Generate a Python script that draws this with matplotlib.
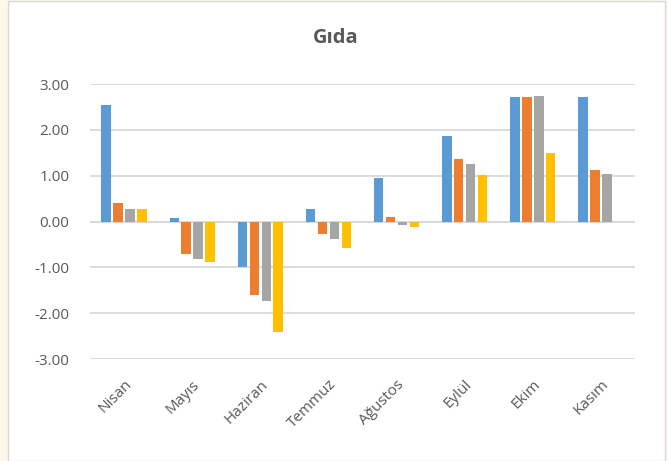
import numpy as np
import matplotlib.pyplot as plt
from matplotlib.patches import Rectangle

# Monthly values per series
months = ["Nisan", "Mayıs", "Haziran", "Temmuz", "Ağustos", "Eylül", "Ekim", "Kasım"]
series1 = [2.54, 0.07, -1.00, 0.27, 0.94, 1.86, 2.72, 2.72]
series2 = [0.40, -0.71, -1.60, -0.27, 0.09, 1.37, 2.72, 1.13]
series3 = [0.28, -0.81, -1.73, -0.38, -0.08, 1.26, 2.74, 1.04]
series4 = [0.28, -0.88, -2.40, -0.58, -0.11, 1.02, 1.50, np.nan]
yticks = [-3, -2, -1, 0, 1, 2, 3]

colors = ["#5B9BD5", "#ED7D31", "#A5A5A5", "#FFC000"]
text_color = "#595959"

plt.rcParams['font.family'] = ['Open Sans', 'DejaVu Sans']

fig = plt.figure(figsize=(6.68, 4.61), dpi=100, facecolor="#FFF8EA")
# white chart area with thin grey border, behind the axes
fig.patches.append(Rectangle((7.5 / 668, 0.5 / 461), 657 / 668, 459 / 461,
                             transform=fig.transFigure, facecolor="white",
                             edgecolor="#D9D9D9", linewidth=1, zorder=-5))

ax = fig.add_axes([90 / 668, 1 - 359 / 461, 545 / 668, 275 / 461])
ax.set_facecolor("none")
ax.set_zorder(1)

x = np.arange(len(months))
width = 0.14
step = 0.175
for i, vals in enumerate([series1, series2, series3, series4]):
    ax.bar(x + (i - 1.5) * step, vals, width, color=colors[i], zorder=3)

ax.set_xlim(-0.5, len(months) - 0.5)
ax.set_ylim(-3, 3)
ax.set_yticks(yticks)
ax.set_yticklabels([f"{v:.2f}" for v in yticks])
ax.yaxis.grid(True, color="#D9D9D9", linewidth=1.3, zorder=0)
ax.axhline(0, color="#D9D9D9", linewidth=1.3, zorder=2)
for s in ax.spines.values():
    s.set_visible(False)

ax.tick_params(axis='y', length=0, pad=15, labelsize=11, labelcolor=text_color)
ax.tick_params(axis='x', length=0, pad=13, labelsize=11, labelcolor=text_color)
ax.set_xticks(x)
ax.set_xticklabels(months, rotation=45, ha='right', rotation_mode='anchor')

fig.text(336 / 668, 1 - 38 / 461, "Gıda", ha='center', va='center',
         fontsize=14.5, fontweight='bold', color=text_color)

fig.savefig("out.png", dpi=100, facecolor=fig.get_facecolor())
